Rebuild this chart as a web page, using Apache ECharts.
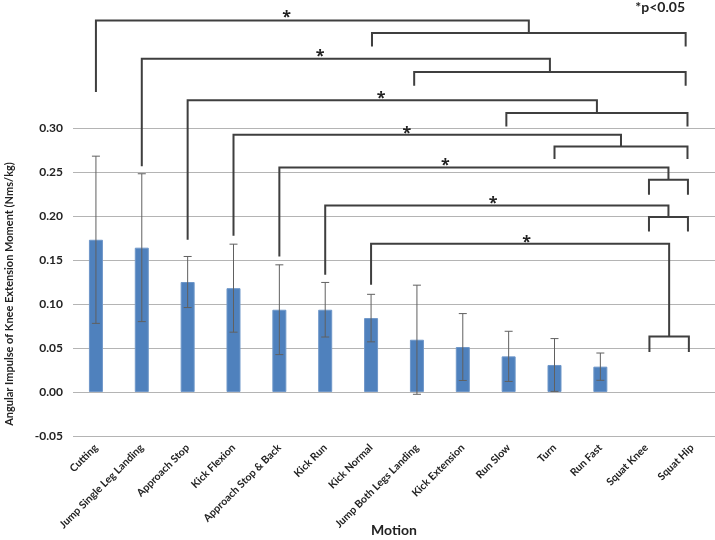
<!DOCTYPE html>
<html>
<head>
<meta charset="utf-8">
<script src="https://cdn.jsdelivr.net/npm/echarts@6/dist/echarts.min.js"></script>
<style>
    html, body {
        margin: 0;
        padding: 0;
        background: #ffffff;
    }

    #chart {
        width: 715px;
        height: 540px;
    }
</style>
</head>
<body>
<div id="chart"></div>
<script>
const categories = [
    'Cutting', 'Jump Single Leg Landing', 'Approach Stop', 'Kick Flexion',
    'Approach Stop & Back', 'Kick Run', 'Kick Normal', 'Jump Both Legs Landing',
    'Kick Extension', 'Run Slow', 'Turn', 'Run Fast', 'Squat Knee', 'Squat Hip'
]

// mean and SD per motion (squat motions have no bar)
const means = [0.173, 0.164, 0.125, 0.118, 0.0935, 0.0935, 0.084, 0.0594, 0.0511, 0.0405, 0.0307, 0.0288, null, null]
const sds = [0.095, 0.084, 0.029, 0.050, 0.051, 0.031, 0.027, 0.062, 0.038, 0.0285, 0.030, 0.0155, null, null]

const yTicks = [-0.05, 0.30, 0.05]  // min, max, interval

// significance brackets: left motion vs a group on the right
const bracketLeft = [0, 1, 2, 3, 4, 5, 6]
const bracketLegBottom = [0.341, 0.2564, 0.173, 0.1776, 0.154, 0.1333, 0.122]
const bracketTop = [0.4223, 0.3788, 0.3314, 0.2924, 0.2552, 0.212, 0.1685]
const groupLeft = [6.02, 6.94, 8.95, 10.0, 12.06, 12.06, 12.07]
const groupRight = [12.86, 12.86, 12.9, 12.9, 12.91, 12.91, 12.93]
const groupLevel = [0.408, 0.3636, 0.317, 0.279, 0.2413, 0.1989, 0.0632]
const groupLegBottom = [0.3927, 0.348, 0.3018, 0.2648, 0.2242, 0.1825, 0.0455]
const starX = [4.16, 4.89, 6.22, 6.78, 7.62, 8.66, 9.39]
const starY = [0.4307, 0.3864, 0.3386, 0.2989, 0.262, 0.2185, 0.175]

const chart = echarts.init(document.getElementById('chart'))

function renderErrorBar(params, api) {
    const x = api.value(0)
    const m = api.value(1)
    const s = api.value(2)
    const top = api.coord([x, m + s])
    const bottom = api.coord([x, m - s])
    const lineStyle = { stroke: '#606060', lineWidth: 1 }

    return {
        type: 'group',
        children: [
            { type: 'line', shape: { x1: top[0], y1: top[1], x2: bottom[0], y2: bottom[1] }, style: lineStyle },
            { type: 'line', shape: { x1: top[0] - 4, y1: top[1], x2: top[0] + 4, y2: top[1] }, style: lineStyle },
            { type: 'line', shape: { x1: bottom[0] - 4, y1: bottom[1], x2: bottom[0] + 4, y2: bottom[1] }, style: lineStyle }
        ]
    }
}

function renderBracket(params, api) {
    const i = params.dataIndex
    const p = (x, y) => api.coord([x, y])
    const mid = (groupLeft[i] + groupRight[i]) / 2
    const lineStyle = { stroke: '#3f3f3f', lineWidth: 2, fill: null }
    const star = p(starX[i], starY[i])

    return {
        type: 'group',
        children: [
            {
                type: 'polyline',
                shape: {
                    points: [
                        p(bracketLeft[i], bracketLegBottom[i]),
                        p(bracketLeft[i], bracketTop[i]),
                        p(mid, bracketTop[i]),
                        p(mid, groupLevel[i])
                    ]
                },
                style: lineStyle
            },
            {
                type: 'polyline',
                shape: {
                    points: [
                        p(groupLeft[i], groupLegBottom[i]),
                        p(groupLeft[i], groupLevel[i]),
                        p(groupRight[i], groupLevel[i]),
                        p(groupRight[i], groupLegBottom[i])
                    ]
                },
                style: lineStyle
            },
            {
                type: 'text',
                style: {
                    text: '*',
                    x: star[0],
                    y: star[1] + 4,
                    fill: '#222222',
                    font: 'bold 16px "Open Sans"',
                    align: 'center',
                    verticalAlign: 'middle'
                }
            }
        ]
    }
}

const errorData = []
means.forEach((m, i) => {
    if (m != null) errorData.push([i, m, sds[i]])
})

const option = {
    animation: false,
    textStyle: {
        fontFamily: 'Lato'
    },
    grid: {
        left: 73,
        right: 0,
        top: 128,
        bottom: 104,
        outerBoundsMode: 'none'
    },
    graphic: [
        {
            type: 'text',
            x: 9,
            y: 294,
            rotation: Math.PI / 2,
            style: {
                text: 'Angular Impulse of Knee Extension Moment (Nms/kg)',
                font: 'bold 11px Lato',
                fill: '#222222',
                align: 'center',
                verticalAlign: 'middle'
            }
        },
        {
            type: 'text',
            right: 30,
            top: 0,
            style: {
                text: '*p<0.05',
                font: 'bold 14px Lato',
                fill: '#222222'
            }
        }
    ],
    xAxis: [
        {
            type: 'category',
            data: categories,
            name: 'Motion',
            nameLocation: 'middle',
            nameGap: 87,
            nameMoveOverlap: false,
            nameTextStyle: {
                fontWeight: 'bold',
                fontSize: 14,
                color: '#222222'
            },
            axisLine: { show: false },
            axisTick: { show: false },
            axisLabel: {
                interval: 0,
                rotate: 45,
                margin: 10,
                fontWeight: 'bold',
                fontSize: 10.5,
                color: '#222222'
            }
        },
        {
            type: 'value',
            min: -0.5,
            max: categories.length - 0.5,
            show: false
        }
    ],
    yAxis: {
        type: 'value',
        min: yTicks[0],
        max: yTicks[1],
        interval: yTicks[2],
        axisLine: { show: false },
        axisTick: { show: false },
        splitLine: {
            lineStyle: {
                color: '#b4b4b4'
            }
        },
        axisLabel: {
            margin: 10,
            fontWeight: 'bold',
            fontSize: 12,
            color: '#222222',
            formatter: v => v.toFixed(2)
        }
    },
    series: [
        {
            type: 'bar',
            data: means,
            barWidth: 14,
            itemStyle: {
                color: '#4f81bd',
                borderColor: '#6f97c9',
                borderWidth: 1
            }
        },
        {
            type: 'custom',
            data: errorData,
            renderItem: renderErrorBar,
            z: 3
        },
        {
            type: 'custom',
            xAxisIndex: 1,
            clip: false,
            data: bracketLeft.map((x, i) => [x, bracketTop[i]]),
            renderItem: renderBracket,
            z: 4
        }
    ]
}

chart.setOption(option)
</script>
</body>
</html>
